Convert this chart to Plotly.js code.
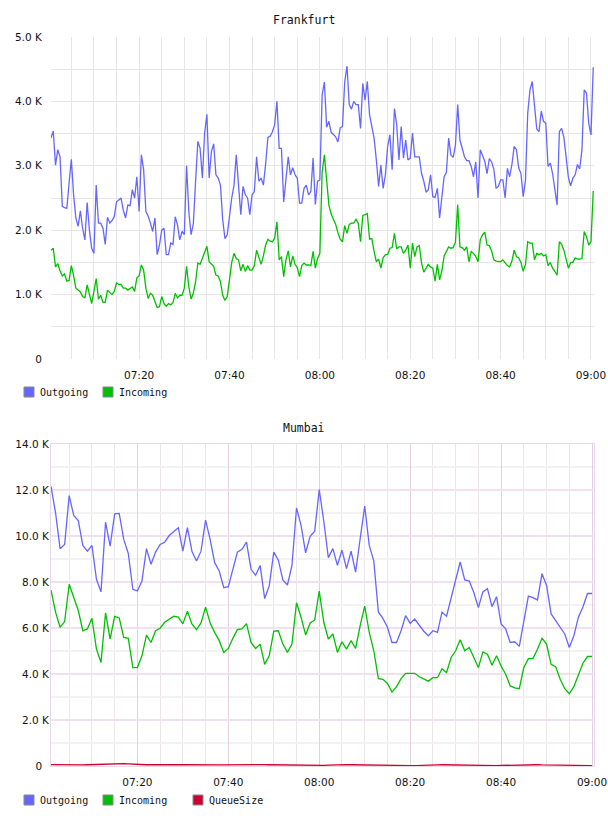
<!DOCTYPE html>
<html>
<head>
<meta charset="utf-8">
<script src="https://cdn.plot.ly/plotly-3.0.1.min.js"></script>
<style>html,body{margin:0;padding:0;background:#fff}#chart{width:608px;height:816px}</style>
</head>
<body>
<div id="chart"></div>
<script>
// ---------------- DATA ----------------
// Frankfurt: samples every 30 s starting 07:00:30
const fraStart = '07:00:30';
const fraStepSec = 30;
const fraOutgoing = [3430,3540,3010,3250,3140,2370,2350,2340,2730,3100,2550,2190,2060,2300,2030,1850,2430,2000,1720,1640,
2700,2110,2110,2030,1780,2200,2110,2150,2210,2440,2470,2500,2310,2190,2390,2380,2630,2500,2830,2290,
3170,2940,2290,2220,2110,1980,2190,1620,1770,2000,2030,1620,1620,1800,1780,2210,2080,1850,1980,1930,
3000,2290,1930,2100,2760,3380,3270,2810,3510,3800,2810,3220,3340,2860,2810,2700,2160,1870,1930,2230,
2500,2700,3170,2700,2240,2680,2550,2500,2240,2550,2600,3140,2760,2810,2700,3030,3440,3460,3530,3640,
4000,3270,3270,2440,2830,3140,2860,2970,2860,2810,2420,2420,2650,2700,2550,2600,3120,2400,2760,2780,
4100,4300,3600,3690,3520,3480,3450,3370,3590,3610,4300,4550,3950,3880,4000,3950,3950,3580,4280,4020,
4310,3790,3580,3430,3090,2680,3010,2650,2860,3300,3480,2940,3890,3640,3090,3610,3120,3400,3090,3120,
3510,3140,3140,3140,2880,2760,2590,2630,2860,2520,2510,2650,2190,2490,2830,2900,3430,3170,3130,3320,
3950,3400,3280,3140,3080,3080,2990,2830,3060,2500,3250,3170,3070,2880,3110,3060,2950,2650,2680,2780,
2780,2500,2960,2830,3020,3300,3250,2970,2880,2520,2770,3820,4180,4310,3950,3570,3530,3850,3690,3660,
2990,3040,2880,2650,2390,3530,3580,3440,3140,2820,2690,2810,2860,3020,2950,3250,4180,4130,3660,3480,
4530];
const fraIncoming = [1690,1720,1430,1480,1370,1290,1320,1210,1220,1450,1300,1100,1070,1040,970,950,1150,980,860,1050,
1250,930,990,880,880,1070,1030,1000,1050,1180,1160,1160,1100,1100,1070,1090,1120,1050,1260,1290,
1460,1380,1100,940,1020,990,880,800,810,970,860,820,860,840,880,1020,950,990,990,1100,
1440,1120,930,1020,1200,1490,1470,1570,1680,1750,1510,1480,1440,1300,1290,1200,990,910,970,1230,
1500,1640,1560,1540,1370,1470,1360,1450,1380,1380,1450,1690,1560,1470,1600,1770,1860,1830,1820,1880,
2130,1540,1590,1280,1540,1680,1430,1600,1470,1420,1280,1450,1490,1460,1460,1450,1670,1410,1560,1640,
2900,3170,2780,2390,2250,2170,2090,1960,1860,1820,2070,1950,2090,2110,2110,2170,2110,1820,2230,2240,
2260,1860,1870,1670,1510,1550,1410,1570,1620,1620,1720,1730,1950,1710,1740,1740,1640,1690,1770,1410,
1800,1590,1740,1760,1490,1350,1410,1470,1430,1410,1210,1470,1230,1370,1600,1670,1740,1720,1730,1810,
2400,1740,1730,1690,1740,1510,1670,1640,1590,1510,1850,1930,1970,1770,1760,1680,1540,1520,1520,1510,
1540,1500,1450,1430,1520,1690,1590,1570,1500,1360,1470,1820,1800,1800,1540,1640,1620,1640,1600,1620,
1450,1500,1410,1360,1300,1820,1780,1690,1550,1410,1500,1500,1570,1550,1550,1560,1980,1900,1770,1820,
2610];

// Mumbai: samples every 60 s starting 07:01:00
const mumStart = '07:01:00';
const mumStepSec = 60;
const mumOutgoing = [12160,11010,9450,9630,11760,10890,10670,9590,9340,9590,8120,7570,10600,9560,10960,10980,9850,9240,7680,7610,
8040,9450,8770,9300,9630,9730,10020,10210,10360,9340,10360,9340,8910,9340,10690,9850,8840,8480,7750,7800,
8550,9300,9420,9730,8550,8290,8720,7280,7830,9300,8950,8090,7870,8720,11220,10460,9270,9990,10210,12020,
10640,9060,9450,8720,9390,8580,9340,8430,9880,11300,9590,8910,6700,6420,6030,5370,5370,5880,6540,6200,
6390,6100,5860,5660,5880,5810,6690,6510,7300,7970,8870,8090,8040,7540,6890,7570,7710,6930,7360,6180,
5960,5370,5400,5200,6390,7390,7320,7220,8360,7850,6610,6320,6030,5740,5150,5660,6470,6910,7500,7500];
const mumIncoming = [7650,6690,6030,6280,7900,7300,6760,5880,5960,6420,5080,4500,6660,5520,6510,6440,5590,5550,4280,4280,
4790,5690,5370,5880,5990,6250,6370,6510,6470,6180,6730,6180,5930,6220,6910,6220,5810,5450,4940,5110,
5550,5930,5960,6190,5370,5110,5300,4420,4790,5860,5880,5300,4940,5300,7100,6470,5700,6220,6350,7600,
6250,5520,5740,4940,5400,5080,5450,5110,6100,6950,5810,5010,3800,3770,3590,3210,3450,3800,4030,4030,
4030,3880,3770,3690,3840,3840,4230,4060,4720,5010,5490,5010,5150,4720,4280,4960,4860,4380,4790,4350,
3990,3480,3400,3360,4280,4670,4670,5080,5550,5300,4420,4320,3770,3360,3140,3450,3940,4470,4760,4760];
const mumQueue = [60,55,50,50,45,40,40,45,55,65,75,85,95,100,110,115,105,95,80,70,
60,55,55,60,60,55,55,60,60,55,50,45,45,50,45,40,40,45,45,50,
55,55,50,50,55,55,60,60,55,50,45,45,40,40,40,35,35,30,30,30,
30,40,50,60,65,60,55,50,45,40,40,35,30,30,25,25,20,20,20,20,
20,20,25,30,40,50,55,50,45,40,35,30,25,25,20,20,20,20,20,25,
30,40,50,60,65,70,65,55,45,40,35,30,25,20,20,20,20,20,20,20];

const seriesNames = ['Outgoing', 'Incoming', 'QueueSize'];
const seriesColors = ['#6666ff', '#00c000', '#cc0033'];
const fraTickVals = [0, 1000, 2000, 3000, 4000, 5000];
const fraTickText = ['0', '1.0 K', '2.0 K', '3.0 K', '4.0 K', '5.0 K'];
const mumTickVals = [0, 2000, 4000, 6000, 8000, 10000, 12000, 14000];
const mumTickText = ['0\u00a0\u00a0', '2.0 K', '4.0 K', '6.0 K', '8.0 K', '10.0 K', '12.0 K', '14.0 K'];
const chartTitles = ['Frankfurt', 'Mumbai'];

// ---------------- HELPERS ----------------
const DAY = '2024-01-01';
function toSec(hms){ const p = hms.split(':').map(Number); return p[0]*3600 + p[1]*60 + (p[2]||0); }
function fmt(sec){ const h = Math.floor(sec/3600), m = Math.floor((sec%3600)/60), s = sec%60;
  const z = v => String(v).padStart(2,'0'); return DAY + ' ' + z(h) + ':' + z(m) + ':' + z(s); }
function timeAxis(start, step, n){ const s0 = toSec(start); const out = []; for(let i=0;i<n;i++) out.push(fmt(s0 + i*step)); return out; }

const fraX = timeAxis(fraStart, fraStepSec, fraOutgoing.length);
const mumX = timeAxis(mumStart, mumStepSec, mumOutgoing.length);

const LW = 1.3;
const traces = [
  {x: fraX, y: fraOutgoing, type:'scatter', mode:'lines', line:{color:seriesColors[0], width:LW}, xaxis:'x', yaxis:'y', name:seriesNames[0], showlegend:false},
  {x: fraX, y: fraIncoming, type:'scatter', mode:'lines', line:{color:seriesColors[1], width:LW}, xaxis:'x', yaxis:'y', name:seriesNames[1], showlegend:false},
  {x: mumX, y: mumOutgoing, type:'scatter', mode:'lines', line:{color:seriesColors[0], width:LW}, xaxis:'x2', yaxis:'y2', name:seriesNames[0], showlegend:false},
  {x: mumX, y: mumIncoming, type:'scatter', mode:'lines', line:{color:seriesColors[1], width:LW}, xaxis:'x2', yaxis:'y2', name:seriesNames[1], showlegend:false},
  {x: mumX, y: mumQueue, type:'scatter', mode:'lines', line:{color:seriesColors[2], width:LW}, xaxis:'x2', yaxis:'y2', name:seriesNames[2], showlegend:false, cliponaxis:false}
];

// ---------------- LAYOUT ----------------
const W = 608, H = 816, ML = 51, MR = 14, MT = 37, MB = 50;
const PW = W - ML - MR, PH = H - MT - MB;
const px2x = px => (px - ML) / PW;
const py2y = py => (H - MB - py) / PH;

const tickFont = {family:'DejaVu Sans, Verdana, sans-serif', size:10.5, color:'#111'};
const monoFont = {family:'DejaVu Sans Mono, monospace', size:10, color:'#111'};
const FIVE_MIN = 5*60*1000, TWENTY_MIN = 20*60*1000;

const annotations = [];
const shapes = [];
// titles
annotations.push({text: chartTitles[0], xref:'paper', yref:'paper', x:px2x(304), y:py2y(20), showarrow:false, xanchor:'center', yanchor:'middle', font:{family:'DejaVu Sans Mono, monospace', size:11.5, color:'#111'}});
annotations.push({text: chartTitles[1], xref:'paper', yref:'paper', x:px2x(304), y:py2y(428), showarrow:false, xanchor:'center', yanchor:'middle', font:{family:'DejaVu Sans Mono, monospace', size:11.5, color:'#111'}});

// legends
function addLegend(names, colors, yPx){
  const sqX = [24, 103, 193];
  names.forEach((nm, i) => {
    shapes.push({type:'rect', xref:'paper', yref:'paper', x0:px2x(sqX[i]), x1:px2x(sqX[i]+10), y0:py2y(yPx+5), y1:py2y(yPx-5),
      fillcolor:colors[i], line:{color:'#888', width:1}});
    annotations.push({text:nm, xref:'paper', yref:'paper', x:px2x(sqX[i]+14), y:py2y(yPx), showarrow:false, xanchor:'left', yanchor:'middle', font:monoFont});
  });
}
addLegend(seriesNames.slice(0,2), seriesColors.slice(0,2), 392);
addLegend(seriesNames, seriesColors, 800);

const layout = {
  width: W, height: H,
  margin: {l:ML, r:MR, t:MT, b:MB, pad:0},
  paper_bgcolor:'#fff', plot_bgcolor:'#fff',
  showlegend:false,
  xaxis: {type:'date', domain:[0,1], anchor:'y', range:[DAY+' 07:00:30', DAY+' 09:00:40'],
    tickformat:'%H:%M', tick0:DAY+' 00:00:00', dtick:TWENTY_MIN, tickmode:'linear',
    showgrid:true, gridcolor:'#e6e6e6', gridwidth:1, zeroline:false, showline:false,
    ticks:'outside', ticklen:6, tickcolor:'rgba(0,0,0,0)', tickfont:tickFont,
    minor:{dtick:FIVE_MIN, tick0:DAY+' 00:00:00', showgrid:true, gridcolor:'#e6e6e6', gridwidth:1, ticks:''}},
  yaxis: {domain:[py2y(359), 1], anchor:'x', range:[0,5000], tickmode:'array', tickvals:fraTickVals, ticktext:fraTickText,
    showgrid:false, zeroline:false, showline:false, ticks:'outside', ticklen:6, tickcolor:'rgba(0,0,0,0)', tickfont:tickFont,
    minor:{dtick:500, tick0:0, tickmode:'linear', showgrid:true, gridcolor:'#e6e6e6', gridwidth:1, ticks:''}},
  xaxis2: {type:'date', domain:[0,1], anchor:'y2', range:[DAY+' 07:01:00', DAY+' 09:00:26'],
    tickformat:'%H:%M', tick0:DAY+' 00:00:00', dtick:TWENTY_MIN, tickmode:'linear',
    showgrid:true, gridcolor:'#e2cfe2', gridwidth:1, zeroline:false,
    showline:true, linecolor:'#ead8ea', linewidth:1, mirror:true,
    ticks:'outside', ticklen:6, tickcolor:'rgba(0,0,0,0)', tickfont:tickFont,
    minor:{dtick:FIVE_MIN, tick0:DAY+' 00:00:00', showgrid:true, gridcolor:'#ece6ec', gridwidth:1, ticks:''}},
  yaxis2: {domain:[0, py2y(444)], anchor:'x2', range:[0,14000], tickmode:'array', tickvals:mumTickVals, ticktext:mumTickText,
    showgrid:true, gridcolor:'#f0e0f0', gridwidth:1.5, zeroline:false,
    showline:true, linecolor:'#ead8ea', linewidth:1, mirror:true,
    ticks:'', ticklabelstandoff:-1, tickfont:tickFont,
    minor:{dtick:1000, tick0:0, tickmode:'linear', showgrid:true, gridcolor:'#f2f2f2', gridwidth:1.5, ticks:''}},
  annotations: annotations,
  shapes: shapes
};

Plotly.newPlot('chart', traces, layout, {displayModeBar:false, staticPlot:true});
</script>
</body>
</html>
